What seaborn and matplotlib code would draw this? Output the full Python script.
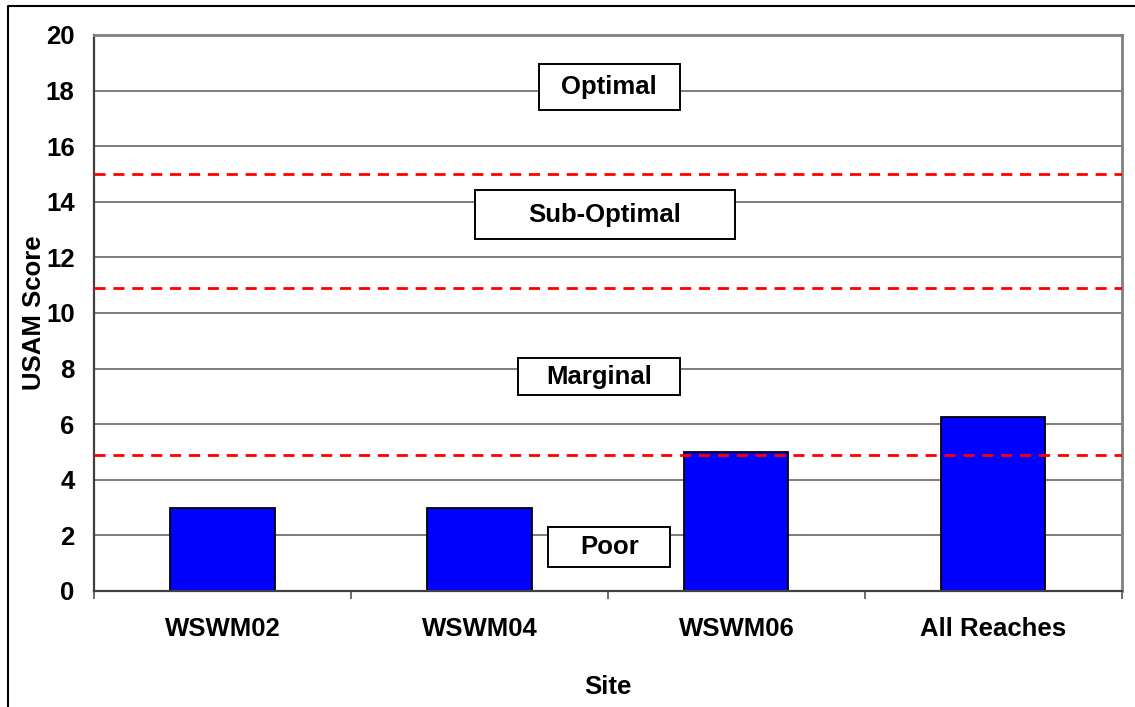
import pandas as pd
import seaborn as sns
import matplotlib.pyplot as plt
from matplotlib.lines import Line2D
from matplotlib.patches import Rectangle


# -----------------------------------
# Data
# -----------------------------------

sites = ["WSWM02", "WSWM04", "WSWM06", "All Reaches"]
scores = [3.0, 3.0, 5.0, 6.25]

# category thresholds (red dashed lines)
thresholds = [15.0, 10.9, 4.9]

# category labels and their boxes (x centre, y bottom, y top, width) in data units
band_labels = ["Optimal", "Sub-Optimal", "Marginal", "Poor"]
band_box_x = [1.505, 1.488, 1.464, 1.505]
band_box_y0 = [17.30, 12.66, 7.05, 0.86]
band_box_y1 = [18.95, 14.42, 8.38, 2.30]
band_box_w = [0.55, 1.012, 0.629, 0.476]

df = pd.DataFrame({"site": sites, "score": scores})


# -----------------------------------
# Style
# -----------------------------------

sns.set_theme(style="white")
plt.rcParams["font.family"] = ["Liberation Sans", "DejaVu Sans"]
plt.rcParams["text.color"] = "black"
plt.rcParams["axes.labelcolor"] = "black"
plt.rcParams["xtick.color"] = "black"
plt.rcParams["ytick.color"] = "black"

FS = 18.5

fig = plt.figure(figsize=(11.35, 7.07), dpi=100)
ax = fig.add_axes([0.0828, 0.1641, 0.9057, 0.7864])

# Bars
sns.barplot(
    data=df,
    x="site",
    y="score",
    color="#0000FF",
    saturation=1,
    width=0.405,
    edgecolor="black",
    linewidth=1.3,
    ax=ax
)

ax.set_xlim(-0.5, 3.5)
ax.set_ylim(0, 20)
ax.set_yticks(range(0, 21, 2))

# Gridlines
ax.yaxis.grid(True, color="#5a5a5a", linewidth=1.1)
ax.set_axisbelow(True)

# Threshold lines
for t in thresholds:
    ax.axhline(
        t,
        color="red",
        linestyle=(0, (4, 2.8)),
        linewidth=2.0,
        zorder=3
    )

# Band label boxes
for lab, cx, y0, y1, w in zip(band_labels, band_box_x, band_box_y0, band_box_y1, band_box_w):
    ax.add_patch(
        Rectangle(
            (cx - w / 2, y0), w, y1 - y0,
            facecolor="white",
            edgecolor="black",
            linewidth=1.4,
            zorder=4
        )
    )
    ax.text(
        cx, (y0 + y1) / 2, lab,
        ha="center", va="center",
        fontsize=FS, fontweight="bold",
        zorder=5
    )

# Ticks
ax.tick_params(axis="x", which="major", length=0, pad=19, labelsize=FS)
ax.tick_params(axis="y", which="major", length=0, pad=14, labelsize=FS)
ax.set_xticks([-0.5, 0.5, 1.5, 2.5, 3.5], minor=True)
ax.tick_params(axis="x", which="minor", bottom=True, length=5.5, width=1.3,
               color="#606060", direction="out")
for lbl in ax.get_xticklabels() + ax.get_yticklabels():
    lbl.set_fontweight("bold")

# Labels
ax.set_xlabel("Site", fontsize=FS, fontweight="bold", labelpad=24)
ax.set_ylabel("USAM Score", fontsize=FS, fontweight="bold", labelpad=0)

# Spines
for side in ["left", "bottom"]:
    ax.spines[side].set_color("#404040")
    ax.spines[side].set_linewidth(1.6)
for side in ["top", "right"]:
    ax.spines[side].set_color("#808080")
    ax.spines[side].set_linewidth(2.0)

# Outer chart frame (left and top edges)
fx = 8 / 1135
fy = 1 - 6 / 707
fig.add_artist(Line2D([fx, fx, 1], [0, fy, fy], color="black", linewidth=1.5,
                      transform=fig.transFigure))

plt.savefig("out.png", dpi=100)
plt.close(fig)
